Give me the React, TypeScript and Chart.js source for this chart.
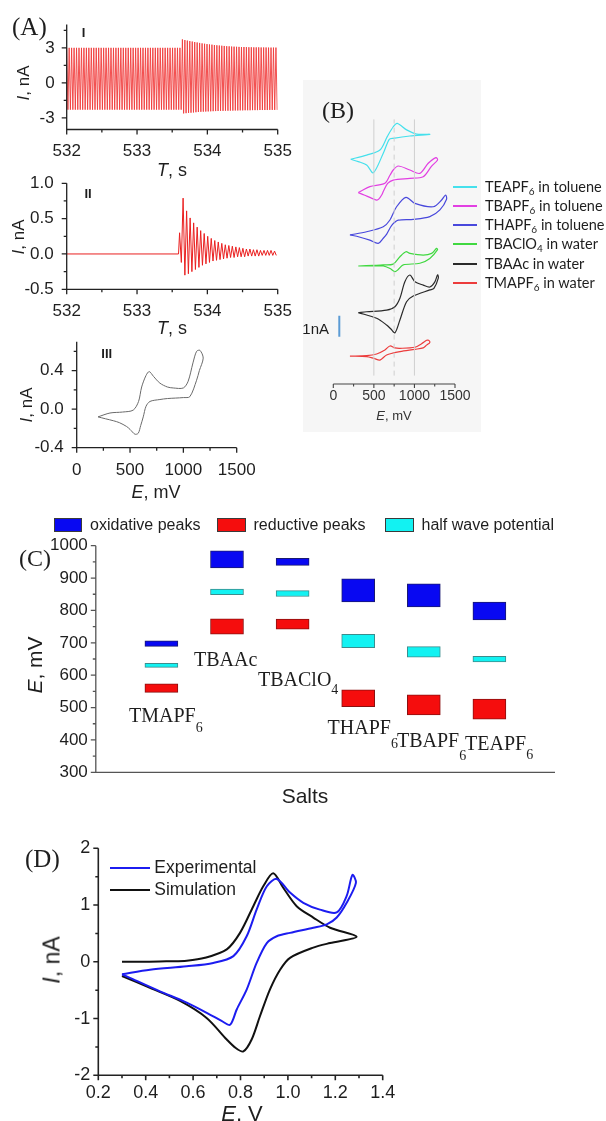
import React, { useEffect, useRef } from 'react';
import { Chart, registerables } from 'chart.js';

Chart.register(...registerables);

const SANS = "'Liberation Sans', Arial, Helvetica, sans-serif";
const SERIF = "'Liberation Serif', 'Times New Roman', Times, serif";
const LEGEND_SANS = "Lato, 'Liberation Sans', Arial, sans-serif";
const INK = '#1e1e1e';

/* ================= (A) I : current vs time ================= */
const A1_T0 = 532; // s
const A1_PERIOD = 0.035; // s, one oscillation
const A1_PEAK_TOP = [
  3.0, 3.0, 3.0, 3.0, 3.0, 3.0, 3.0, 3.0, 3.0, 3.0,
  3.0, 3.0, 3.0, 3.0, 3.0, 3.0, 3.0, 3.0, 3.0, 3.0,
  3.0, 3.0, 3.0, 3.0, 3.0, 3.0, 3.0, 3.0, 3.0, 3.0,
  3.0, 3.0, 3.0, 3.0, 3.0, 3.0, 3.0, 3.0, 3.0, 3.0,
  3.0, 3.0, 3.0, 3.0, 3.0, 3.0, 3.0,
  3.72, 3.67, 3.62, 3.58, 3.54, 3.5, 3.46, 3.42, 3.38, 3.35,
  3.32, 3.29, 3.27, 3.24, 3.22, 3.2, 3.18, 3.16, 3.14, 3.13,
  3.11, 3.1, 3.09, 3.08, 3.07, 3.07, 3.06, 3.05, 3.05, 3.04,
  3.04, 3.04, 3.03, 3.03, 3.03, 3.02, 3.02, 3.02, 3.02,
];
const A1_PEAK_BOTTOM = [
  -2.3, -2.3, -2.3, -2.3, -2.3, -2.3, -2.3, -2.3, -2.3, -2.3,
  -2.3, -2.3, -2.3, -2.3, -2.3, -2.3, -2.3, -2.3, -2.3, -2.3,
  -2.3, -2.3, -2.3, -2.3, -2.3, -2.3, -2.3, -2.3, -2.3, -2.3,
  -2.3, -2.3, -2.3, -2.3, -2.3, -2.3, -2.3, -2.3, -2.3, -2.3,
  -2.3, -2.3, -2.3, -2.3, -2.3, -2.3, -2.3,
  -2.62, -2.6, -2.58, -2.56, -2.54, -2.52, -2.5, -2.48, -2.47, -2.46,
  -2.45, -2.44, -2.43, -2.42, -2.41, -2.4, -2.4, -2.39, -2.39, -2.38,
  -2.38, -2.37, -2.37, -2.36, -2.36, -2.35, -2.35, -2.35, -2.34, -2.34,
  -2.34, -2.33, -2.33, -2.33, -2.33, -2.32, -2.32, -2.32, -2.32,
];
const A1_X_TICKS = [532, 533, 534, 535];
const A1_X_MINOR = [532.5, 533.5, 534.5];
const A1_Y_TICKS = [-3, 0, 3];
const A1_Y_MINOR = [-1.5, 1.5, 4.5];

/* ================= (A) II ================= */
const A2_BASELINE_T = [532, 533.59];
const A2_BASELINE_I = [0, 0];
const A2_T0 = 533.605;
const A2_PERIOD = 0.05;
const A2_PEAK_TOP = [
  0.3, 0.79, 0.61, 0.51, 0.44, 0.38, 0.33, 0.29, 0.25, 0.22,
  0.19, 0.17, 0.15, 0.13, 0.12, 0.11, 0.1, 0.09, 0.08, 0.07,
  0.07, 0.06, 0.06, 0.05, 0.05, 0.05, 0.05, 0.04,
];
const A2_PEAK_BOTTOM = [
  -0.12, -0.3, -0.28, -0.25, -0.22, -0.19, -0.16, -0.14, -0.12, -0.1,
  -0.09, -0.08, -0.07, -0.06, -0.05, -0.05, -0.04, -0.04, -0.04, -0.03,
  -0.03, -0.03, -0.03, -0.02, -0.02, -0.02, -0.02, -0.02,
];
const A2_X_TICKS = [532, 533, 534, 535];
const A2_X_MINOR = [532.5, 533.5, 534.5];
const A2_Y_TICKS = [-0.5, 0, 0.5, 1.0];
const A2_Y_MINOR = [-0.25, 0.25, 0.75];

/* ================= (A) III : CV ================= */
const A3_E = [
  200, 312, 430, 530, 580, 609, 650, 680, 720, 780,
  850, 905, 1000, 1045, 1090, 1124, 1156, 1186, 1150, 1124,
  1061, 1000, 850, 780, 687, 650, 624, 600, 577, 546,
  500, 468, 400, 343, 270, 200,
];
const A3_I = [
  -0.08, -0.04, -0.03, -0.01, 0.08, 0.23, 0.35, 0.39, 0.34, 0.27,
  0.23, 0.22, 0.22, 0.29, 0.48, 0.6, 0.61, 0.53, 0.4, 0.3,
  0.13, 0.12, 0.11, 0.1, 0.08, 0.03, -0.08, -0.17, -0.25, -0.26,
  -0.21, -0.18, -0.14, -0.12, -0.1, -0.08,
];
const A3_X_TICKS = [0, 500, 1000, 1500];
const A3_X_MINOR = [250, 750, 1250];
const A3_Y_TICKS = [-0.4, 0, 0.4];
const A3_Y_MINOR = [-0.2, 0.2, 0.6];

/* ================= (B) stacked CVs ================= */
const B_LEGEND: [string, string, string][] = [
  ['TEAPF', '6', ' in toluene'],
  ['TBAPF', '6', ' in toluene'],
  ['THAPF', '6', ' in toluene'],
  ['TBAClO', '4', ' in water'],
  ['TBAAc', '', ' in water'],
  ['TMAPF', '6', ' in water'],
];
const B_COLORS = ['#45e0ec', '#e23fe2', '#4848dc', '#40d840', '#2a2a2a', '#ec3c3c'];
const B_OFFSETS = [11, 9.5, 7.5, 5.8, 3.5, 1.5]; // nA, vertical stacking
const B_E = [
  [214, 411, 575, 665, 739, 788, 904, 1027, 1190, 944, 739, 690, 616, 493, 411, 308, 214],
  [308, 349, 451, 636, 700, 739, 800, 944, 1067, 1170, 1265, 1285, 1212, 1108, 944, 739, 670, 620, 596, 560, 534, 470, 380, 308],
  [205, 411, 616, 698, 780, 895, 1006, 1232, 1335, 1384, 1396, 1314, 1190, 985, 800, 720, 660, 616, 554, 450, 320, 205],
  [308, 500, 616, 739, 821, 895, 944, 1108, 1212, 1273, 1285, 1190, 1067, 862, 800, 760, 700, 616, 450, 308],
  [308, 411, 657, 760, 821, 882, 944, 1006, 1108, 1190, 1250, 1285, 1295, 1240, 1190, 985, 903, 821, 760, 710, 657, 534, 308],
  [205, 411, 534, 636, 698, 760, 821, 1006, 1088, 1150, 1175, 1190, 1150, 1108, 1006, 821, 657, 575, 500, 411, 205],
];
const B_I = [
  [-0.3, -0.1, 0.14, 0.78, 1.25, 1.41, 1.1, 0.9, 0.89, 0.81, 0.7, 0.65, -0.01, -0.94, -0.57, -0.41, -0.3],
  [-0.39, -0.3, -0.1, 0.06, 0.45, 0.69, 0.88, 0.69, 0.53, 1.01, 1.28, 1.17, 0.88, 0.37, 0.29, 0.21, 0.05, -0.3, -0.5, -0.7, -0.74, -0.65, -0.5, -0.39],
  [-0.4, -0.25, -0.01, 0.31, 0.94, 1.39, 1.1, 0.94, 1.26, 1.5, 1.3, 0.79, 0.47, 0.34, 0.3, 0.05, -0.35, -0.56, -0.8, -0.65, -0.5, -0.4],
  [-0.18, -0.15, -0.13, -0.09, 0.26, 0.5, 0.42, 0.34, 0.42, 0.66, 0.6, 0.18, -0.05, -0.13, -0.35, -0.45, -0.3, -0.18, -0.18, -0.18],
  [-0.1, -0.06, 0.02, 0.18, 0.58, 1.37, 1.69, 1.37, 1.21, 1.12, 1.35, 1.7, 1.55, 1.05, 0.98, 0.69, 0.42, -0.45, -1.06, -0.88, -0.69, -0.37, -0.1],
  [-0.17, -0.15, -0.07, 0.12, 0.31, 0.22, 0.2, 0.25, 0.42, 0.58, 0.58, 0.48, 0.35, 0.22, 0.15, 0.04, -0.12, -0.36, -0.28, -0.2, -0.17],
];
const B_X_TICKS = [0, 500, 1000, 1500];
const B_X_MINOR = [250, 750, 1250];
const B_GUIDES = [500, 750, 1000]; // mV, light reference lines
const B_GUIDE_DASHED = [false, true, false];
const B_GUIDE_SPAN = [0.4, 12.6];
const B_SCALEBAR_E = 74;
const B_SCALEBAR_I = [2.25, 3.25]; // 1 nA

/* ================= (C) peak potentials ================= */
const C_LEGEND = ['oxidative peaks', 'reductive peaks', 'half wave potential'];
const C_SALTS: [string, string][] = [
  ['TMAPF', '6'], ['TBAAc', ''], ['TBAClO', '4'], ['THAPF', '6'], ['TBAPF', '6'], ['TEAPF', '6'],
];
const C_OXIDATIVE = [[689, 706], [931, 984], [939, 961], [826, 898], [811, 882], [771, 826]];
const C_REDUCTIVE = [[547, 573], [727, 774], [742, 773], [503, 555], [477, 539], [464, 526]];
const C_HALF_WAVE = [[624, 637], [849, 866], [843, 861], [685, 726], [656, 688], [641, 658]];
const C_Y_TICKS = [300, 400, 500, 600, 700, 800, 900, 1000];
const C_Y_MINOR = [350, 450, 550, 650, 750, 850, 950];
const C_COLORS = ['#0808f2', '#f50d0d', '#12f2f2'];
const C_BORDERS = ['#1a1a70', '#8a1010', '#3c8c8c'];

/* ================= (D) experiment vs simulation ================= */
const D_EXP_E = [
  0.3, 0.418, 0.573, 0.685, 0.77, 0.826, 0.868, 0.911, 0.953, 1.009,
  1.065, 1.135, 1.206, 1.248, 1.272, 1.287, 1.248, 1.206, 1.164, 1.107,
  1.009, 0.953, 0.911, 0.868, 0.826, 0.784, 0.756, 0.72, 0.685, 0.573,
  0.46, 0.348, 0.3,
];
const D_EXP_I = [
  -0.22, -0.14, -0.08, -0.02, 0.1, 0.45, 0.92, 1.33, 1.46, 1.22,
  1.04, 0.92, 0.87, 1.16, 1.53, 1.39, 1.04, 0.78, 0.66, 0.6,
  0.51, 0.45, 0.33, -0.02, -0.49, -0.84, -1.11, -1.04, -0.96, -0.72,
  -0.52, -0.31, -0.22,
];
const D_SIM_E = [
  0.3, 0.4, 0.5, 0.573, 0.65, 0.742, 0.798, 0.854, 0.896, 0.938,
  0.981, 1.037, 1.107, 1.178, 1.29, 1.178, 1.107, 1.009, 0.967, 0.924,
  0.882, 0.847, 0.812, 0.78, 0.742, 0.657, 0.545, 0.418, 0.3,
];
const D_SIM_I = [
  0, 0, 0.01, 0.02, 0.07, 0.22, 0.51, 0.98, 1.33, 1.56,
  1.3, 0.98, 0.78, 0.6, 0.44, 0.33, 0.25, 0.07, -0.14, -0.49,
  -0.96, -1.37, -1.58, -1.52, -1.37, -0.99, -0.69, -0.46, -0.25,
];
const D_X_TICKS = [0.2, 0.4, 0.6, 0.8, 1.0, 1.2, 1.4];
const D_X_MINOR = [0.3, 0.5, 0.7, 0.9, 1.1, 1.3];
const D_Y_TICKS = [-2, -1, 0, 1, 2];
const D_Y_MINOR = [-1.5, -0.5, 0.5, 1.5];

/* ================= layout ================= */
type Frame = { left: number; top: number; width: number; height: number; L: number; T: number; R: number; B: number };
const FA1: Frame = { left: 0, top: 0, width: 300, height: 165, L: 66.7, T: 24.5, R: 277.7, B: 129.5 };
const FA2: Frame = { left: 0, top: 165, width: 300, height: 175, L: 66.7, T: 183.3, R: 277.7, B: 289.3 };
const FA3: Frame = { left: 0, top: 330, width: 300, height: 180, L: 76.7, T: 341.7, R: 236.7, B: 447.7 };
const FB: Frame = { left: 300, top: 80, width: 306, height: 350, L: 333.3, T: 100.5, R: 455, B: 384 };
const FC: Frame = { left: 0, top: 500, width: 606, height: 300, L: 95.8, T: 545.7, R: 555, B: 772.3 };
const FD: Frame = { left: 0, top: 820, width: 440, height: 301, L: 98.3, T: 848.3, R: 382.7, B: 1075.3 };

const C_LABEL_POS = [
  [129, 715, 11.7], [194, 659, 0], [258, 679, 10], [327.6, 727, 15.8], [397, 740, 14.7], [465, 743, 11.4],
];
const B_LEGEND_Y = [186.7, 205.9, 225.1, 244.3, 263.5, 282.7];

/* ================= helpers ================= */
const pts = (xs: number[], ys: number[], off = 0) => xs.map((x, i) => ({ x, y: ys[i] + off }));

function oscillation(t0: number, period: number, tops: number[], bottoms: number[]) {
  const out: { x: number; y: number }[] = [];
  tops.forEach((v, i) => {
    out.push({ x: t0 + i * period, y: v });
    out.push({ x: t0 + i * period + period / 2, y: bottoms[i] });
  });
  return out;
}

const axisDecor = {
  id: 'axisDecor',
  afterDraw(chart: any, _a: any, o: any) {
    const { ctx, chartArea: a, scales } = chart;
    ctx.save();
    ctx.strokeStyle = o.color ?? '#222';
    ctx.lineWidth = o.lineWidth ?? 1.3;
    const maj = o.majorLen ?? 5;
    const mn = o.minorLen ?? 3;
    ctx.beginPath();
    if (o.x) {
      const s = scales.x;
      const y = a.bottom;
      ctx.moveTo(a.left, y);
      ctx.lineTo(a.right, y);
      for (const v of o.x.major ?? []) { const p = s.getPixelForValue(v); ctx.moveTo(p, y); ctx.lineTo(p, y + maj); }
      for (const v of o.x.minor ?? []) { const p = s.getPixelForValue(v); ctx.moveTo(p, y); ctx.lineTo(p, y + mn); }
    }
    if (o.y) {
      const s = scales.y;
      const x = a.left;
      ctx.moveTo(x, a.top);
      ctx.lineTo(x, a.bottom);
      for (const v of o.y.major ?? []) { const p = s.getPixelForValue(v); ctx.moveTo(x, p); ctx.lineTo(x - maj, p); }
      for (const v of o.y.minor ?? []) { const p = s.getPixelForValue(v); ctx.moveTo(x, p); ctx.lineTo(x - mn, p); }
    }
    ctx.stroke();
    ctx.restore();
  },
};

const fitW = (f: Frame) => (s: any) => { s.width = f.L - f.left; };
const fitH = (f: Frame) => (s: any) => { s.height = f.top + f.height - f.B; };

function linAxis(a: {
  min: number; max: number; ticks: number[]; fmt: (v: number) => string; size: number; gap: number;
  fit: (s: any) => void; color?: string;
}) {
  return {
    type: 'linear',
    min: a.min,
    max: a.max,
    grid: { display: false, drawTicks: true, tickLength: a.gap },
    border: { display: false },
    afterBuildTicks: (s: any) => { s.ticks = a.ticks.map((v) => ({ value: v })); },
    afterFit: a.fit,
    ticks: {
      autoSkip: false, maxRotation: 0, minRotation: 0, padding: 0,
      color: a.color ?? INK,
      font: { family: SANS, size: a.size, lineHeight: 1.2 },
      callback: (v: any) => a.fmt(Number(v)),
    },
  };
}

function baseOptions(f: Frame, yShown: boolean, scales: any, decor: any) {
  return {
    responsive: false,
    maintainAspectRatio: false,
    animation: false,
    devicePixelRatio: 1,
    events: [],
    layout: { padding: { left: yShown ? 0 : f.L - f.left, top: f.T - f.top, right: f.left + f.width - f.R, bottom: 0 } },
    scales,
    plugins: { legend: { display: false }, tooltip: { enabled: false }, axisDecor: decor },
  };
}

const line = (data: any[], color: string, width: number, tension: number, dash?: number[]) => ({
  data, showLine: true, borderColor: color, backgroundColor: color, borderWidth: width,
  pointRadius: 0, tension, fill: false, borderDash: dash ?? [],
});

/* ================= chart builders ================= */
const makeA1 = () => ({
  type: 'scatter',
  data: { datasets: [line(oscillation(A1_T0, A1_PERIOD, A1_PEAK_TOP, A1_PEAK_BOTTOM), '#f03c3c', 0.9, 0)] },
  options: baseOptions(FA1, true, {
    x: linAxis({ min: 532, max: 535, ticks: A1_X_TICKS, fmt: String, size: 17, gap: 12, fit: fitH(FA1) }),
    y: linAxis({ min: -4, max: 5, ticks: A1_Y_TICKS, fmt: String, size: 17, gap: 12, fit: fitW(FA1) }),
  }, { x: { major: A1_X_TICKS, minor: A1_X_MINOR }, y: { major: A1_Y_TICKS, minor: A1_Y_MINOR } }),
  plugins: [axisDecor],
});

const makeA2 = () => ({
  type: 'scatter',
  data: {
    datasets: [
      line([...pts(A2_BASELINE_T, A2_BASELINE_I), ...oscillation(A2_T0, A2_PERIOD, A2_PEAK_TOP, A2_PEAK_BOTTOM)], '#ea2020', 1, 0),
    ],
  },
  options: baseOptions(FA2, true, {
    x: linAxis({ min: 532, max: 535, ticks: A2_X_TICKS, fmt: String, size: 17, gap: 12, fit: fitH(FA2) }),
    y: linAxis({ min: -0.5, max: 1.0, ticks: A2_Y_TICKS, fmt: (v) => v.toFixed(1), size: 17, gap: 13, fit: fitW(FA2) }),
  }, { x: { major: A2_X_TICKS, minor: A2_X_MINOR }, y: { major: A2_Y_TICKS, minor: A2_Y_MINOR } }),
  plugins: [axisDecor],
});

const makeA3 = () => ({
  type: 'scatter',
  data: { datasets: [line(pts(A3_E, A3_I), '#6a6a6a', 1, 0.3)] },
  options: baseOptions(FA3, true, {
    x: linAxis({ min: 0, max: 1500, ticks: A3_X_TICKS, fmt: String, size: 17, gap: 12, fit: fitH(FA3) }),
    y: linAxis({ min: -0.4, max: 0.7, ticks: A3_Y_TICKS, fmt: (v) => v.toFixed(1), size: 17, gap: 13, fit: fitW(FA3) }),
  }, { x: { major: A3_X_TICKS, minor: A3_X_MINOR }, y: { major: A3_Y_TICKS, minor: A3_Y_MINOR } }),
  plugins: [axisDecor],
});

const makeB = () => ({
  type: 'scatter',
  data: {
    datasets: [
      ...B_GUIDES.map((e, i) => line([{ x: e, y: B_GUIDE_SPAN[0] }, { x: e, y: B_GUIDE_SPAN[1] }], '#cfcfcf', 1, 0, B_GUIDE_DASHED[i] ? [5, 4] : undefined)),
      line([{ x: B_SCALEBAR_E, y: B_SCALEBAR_I[0] }, { x: B_SCALEBAR_E, y: B_SCALEBAR_I[1] }], '#5b9bd5', 2, 0),
      ...B_E.map((es, i) => line(pts(es, B_I[i], B_OFFSETS[i]), B_COLORS[i], 1.2, 0.3)),
    ],
  },
  options: baseOptions(FB, false, {
    x: linAxis({ min: 0, max: 1500, ticks: B_X_TICKS, fmt: String, size: 14, gap: 4, fit: fitH(FB), color: '#333' }),
    y: { type: 'linear', min: 0, max: 13.5, display: false },
  }, { color: '#444', lineWidth: 1.1, majorLen: 4, minorLen: 2.5, x: { major: B_X_TICKS, minor: B_X_MINOR } }),
  plugins: [axisDecor],
});

const bars = (pairs: number[][], fill: string, border: string) => ({
  data: [null, ...pairs, null],
  backgroundColor: fill,
  borderColor: border,
  borderWidth: 1,
  borderSkipped: false,
  barThickness: 33,
  grouped: false,
});

const makeC = () => ({
  type: 'bar',
  data: {
    labels: ['', ...C_SALTS.map((s) => s.join('')), ''],
    datasets: [
      bars(C_OXIDATIVE, C_COLORS[0], C_BORDERS[0]),
      bars(C_REDUCTIVE, C_COLORS[1], C_BORDERS[1]),
      bars(C_HALF_WAVE, C_COLORS[2], C_BORDERS[2]),
    ],
  },
  options: baseOptions(FC, true, {
    x: {
      type: 'category', offset: false, grid: { display: false }, border: { display: false },
      ticks: { display: false }, afterFit: fitH(FC),
    },
    y: linAxis({ min: 300, max: 1000, ticks: C_Y_TICKS, fmt: String, size: 17, gap: 8, fit: fitW(FC) }),
  }, { color: '#555', lineWidth: 1.3, x: { major: [], minor: [] }, y: { major: C_Y_TICKS, minor: C_Y_MINOR } }),
  plugins: [axisDecor],
});

const makeD = () => ({
  type: 'scatter',
  data: {
    datasets: [
      line(pts(D_EXP_E, D_EXP_I), '#1c1cf0', 2, 0.3),
      line(pts(D_SIM_E, D_SIM_I), '#111111', 2, 0.3),
    ],
  },
  options: baseOptions(FD, true, {
    x: linAxis({ min: 0.2, max: 1.4, ticks: D_X_TICKS, fmt: (v) => v.toFixed(1), size: 18, gap: 7, fit: fitH(FD) }),
    y: linAxis({ min: -2, max: 2, ticks: D_Y_TICKS, fmt: String, size: 18, gap: 8, fit: fitW(FD) }),
  }, { lineWidth: 1.6, x: { major: D_X_TICKS, minor: D_X_MINOR }, y: { major: D_Y_TICKS, minor: D_Y_MINOR } }),
  plugins: [axisDecor],
});

/* ================= components ================= */
function ChartBox({ frame, make }: { frame: Frame; make: () => any }) {
  const ref = useRef<HTMLCanvasElement | null>(null);
  useEffect(() => {
    if (!ref.current) return;
    const chart = new Chart(ref.current, make());
    return () => chart.destroy();
  }, []);
  return (
    <canvas
      ref={ref}
      width={frame.width}
      height={frame.height}
      style={{ position: 'absolute', left: frame.left, top: frame.top, width: frame.width, height: frame.height }}
    />
  );
}

function Label(props: {
  x: number; y: number; size: number; family?: string; anchor?: 'l' | 'c' | 'r'; rotate?: boolean;
  weight?: string; color?: string; children: React.ReactNode;
}) {
  const { x, y, size, family = SANS, anchor = 'c', rotate = false, weight = 'normal', color = INK, children } = props;
  const tx = anchor === 'l' ? '0' : anchor === 'r' ? '-100%' : '-50%';
  return (
    <div
      style={{
        position: 'absolute', left: x, top: y,
        transform: `translate(${tx}, -50%)${rotate ? ' rotate(-90deg)' : ''}`,
        fontSize: size, fontFamily: family, fontWeight: weight as any, color,
        whiteSpace: 'nowrap', lineHeight: 1,
      }}
    >
      {children}
    </div>
  );
}

export default function App() {
  return (
    <div
      style={{
        position: 'absolute', left: 0, top: 0, width: 606, height: 1121,
        background: '#ffffff', overflow: 'hidden', fontFamily: SANS, color: INK,
      }}
    >
      {/* light backdrop of panel B */}
      <div style={{ position: 'absolute', left: 303, top: 80, width: 178, height: 352, background: '#f6f6f6' }} />

      <ChartBox frame={FA1} make={makeA1} />
      <ChartBox frame={FA2} make={makeA2} />
      <ChartBox frame={FA3} make={makeA3} />
      <ChartBox frame={FB} make={makeB} />
      <ChartBox frame={FC} make={makeC} />
      <ChartBox frame={FD} make={makeD} />

      {/* ---- (A) ---- */}
      <Label x={12} y={26} size={25} family={SERIF} anchor="l">(A)</Label>
      <Label x={83.5} y={32} size={13} weight="bold">I</Label>
      <Label x={23} y={83} size={17} rotate><i>I</i>, nA</Label>
      <Label x={172} y={170} size={18}><i>T</i>, s</Label>
      <Label x={88} y={192.5} size={13} weight="bold">II</Label>
      <Label x={18} y={237} size={17} rotate><i>I</i>, nA</Label>
      <Label x={172} y={328} size={18}><i>T</i>, s</Label>
      <Label x={106.7} y={353} size={13} weight="bold">III</Label>
      <Label x={26} y={405} size={17} rotate><i>I</i>, nA</Label>
      <Label x={156} y={492} size={18}><i>E</i>, mV</Label>

      {/* ---- (B) ---- */}
      <Label x={338} y={110} size={24} family={SERIF}>(B)</Label>
      {B_LEGEND.map((item, i) => (
        <React.Fragment key={i}>
          <div style={{ position: 'absolute', left: 452.7, top: B_LEGEND_Y[i] - 1, width: 24, height: 2, background: B_COLORS[i] }} />
          <Label x={485} y={B_LEGEND_Y[i]} size={14.5} family={LEGEND_SANS} anchor="l">
            {item[0]}
            {item[1] ? <span style={{ fontSize: 10, position: 'relative', top: 3 }}>{item[1]}</span> : null}
            {item[2]}
          </Label>
        </React.Fragment>
      ))}
      <Label x={394} y={415} size={13} color="#333"><i>E</i>, mV</Label>
      <Label x={329} y={328} size={15} anchor="r">1nA</Label>

      {/* ---- (C) ---- */}
      {C_LEGEND.map((t, i) => {
        const bx = [53.6, 217, 385][i];
        return (
          <React.Fragment key={t}>
            <div
              style={{
                position: 'absolute', left: bx, top: 518, width: 28.5, height: 13.5, boxSizing: 'border-box',
                background: C_COLORS[i], border: '1px solid #3a3a3a',
              }}
            />
            <Label x={bx + 36.5} y={524.5} size={16} anchor="l">{t}</Label>
          </React.Fragment>
        );
      })}
      <Label x={19} y={558} size={24} family={SERIF} anchor="l">(C)</Label>
      <Label x={34} y={665} size={21} rotate><i>E</i>, mV</Label>
      <Label x={305} y={795} size={21}>Salts</Label>
      {C_SALTS.map((s, i) => (
        <Label key={i} x={C_LABEL_POS[i][0]} y={C_LABEL_POS[i][1]} size={20} family={SERIF} anchor="l">
          {s[0]}
          {s[1] ? <span style={{ fontSize: 14, position: 'relative', top: C_LABEL_POS[i][2] - 2 }}>{s[1]}</span> : null}
        </Label>
      ))}

      {/* ---- (D) ---- */}
      <Label x={25} y={858} size={25} family={SERIF} anchor="l">(D)</Label>
      <div style={{ position: 'absolute', left: 110, top: 867.3, width: 40, height: 2, background: '#1c1cf0' }} />
      <Label x={154.3} y={868.3} size={17.5} anchor="l">Experimental</Label>
      <div style={{ position: 'absolute', left: 110, top: 889, width: 40, height: 2, background: '#111' }} />
      <Label x={154.3} y={890} size={17.5} anchor="l">Simulation</Label>
      <Label x={52} y={960} size={23} rotate><i>I</i>, nA</Label>
      <Label x={242} y={1114} size={22}><i>E</i>, V</Label>
    </div>
  );
}
